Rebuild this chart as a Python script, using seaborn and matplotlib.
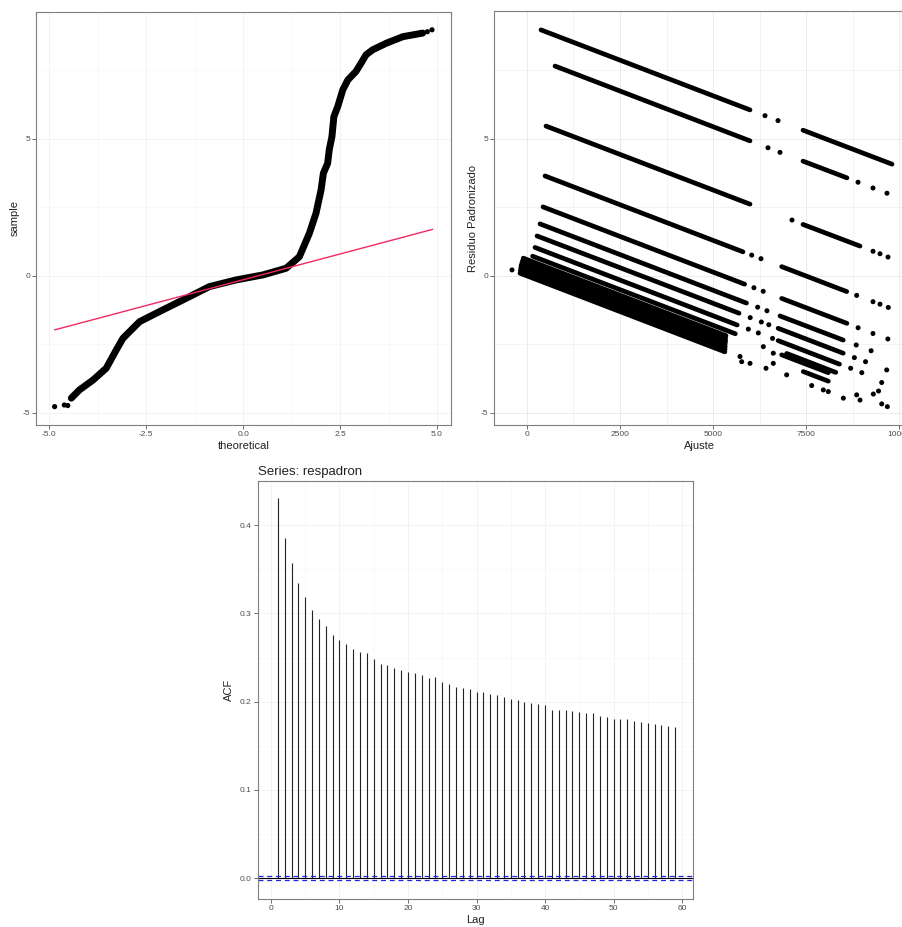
import numpy as np
import pandas as pd
import matplotlib
matplotlib.use("Agg")
import matplotlib.pyplot as plt
import seaborn as sns

# ---------------- data ----------------
# Q-Q plot
qq_theoretical = [-4.43, -4.22, -3.87, -3.53, -3.27, -3.10, -2.67, -2.07, -1.38, -0.87, -0.18,
                  0.51, 1.11, 1.45, 1.71, 1.88, 2.01, 2.07, 2.18, 2.22, 2.29, 2.34, 2.44, 2.57,
                  2.70, 2.91, 3.04, 3.17, 3.34, 3.69, 4.12, 4.63]
qq_sample = [-4.46, -4.16, -3.80, -3.37, -2.70, -2.28, -1.67, -1.24, -0.755, -0.39, -0.146,
             0.036, 0.28, 0.70, 1.56, 2.29, 3.14, 3.75, 4.11, 4.60, 5.08, 5.81, 6.18, 6.79,
             7.15, 7.46, 7.76, 8.07, 8.25, 8.49, 8.73, 8.86]
qq_tail_theoretical = [-4.86, -4.61, -4.52, 4.75, 4.87]
qq_tail_sample = [-4.77, -4.71, -4.73, 8.91, 8.98]
qq_line_theoretical = [-4.86, 4.89]
qq_line_sample = [-1.97, 1.70]

# Residual vs fitted: continuous runs of points (x0, y0, x1, y1)
seg_x0 = [376, 7419, 753, 7419, 511, 7419, 484, 6846, 430, 6846, 349, 6800, 269, 6750,
          215, 6750, 150, 6980, -100, -120, -140, -160, -170, -180, -188, 6846, 7427]
seg_y0 = [8.98, 5.32, 7.66, 4.19, 5.47, 1.88, 3.65, 0.34, 2.52, -0.82, 1.90, -1.46, 1.46, -1.91,
          1.04, -2.36, 0.72, -2.83, 0.65, 0.56, 0.47, 0.38, 0.29, 0.19, 0.10, -2.88, -3.49]
seg_x1 = [5995, 9812, 5995, 8602, 5995, 8952, 5806, 8594, 5850, 8600, 5900, 8500, 5700, 8500,
          5650, 8400, 5600, 8300, 5350, 5340, 5340, 5330, 5330, 5325, 5320, 8100, 8100]
seg_y1 = [6.06, 4.08, 4.93, 3.58, 2.62, 1.09, 0.88, -0.57, -0.30, -1.73, -0.99, -2.34, -1.36, -2.82,
          -1.79, -3.22, -2.11, -3.52, -2.18, -2.28, -2.38, -2.47, -2.57, -2.67, -2.77, -3.53, -3.84]
# isolated points
pt_fitted = [6398, 6747, 6478, 6801, 8898, 9301, 9677, 7124, 9301, 9489, 9704,
             6040, 6290, 8862, 9301, 9489, 9712, 6100, 6350, 8900, 9300, 9700,
             6200, 6450, 8850, 9250, 6000, 6300, 6500, 8800, 9100, 9669,
             5950, 6218, 6600, 8700, 9000, 5726, 5771, 5995, 6425, 6621, 6621, 6353,
             6980, 7653, 7965, 8100, 8503, 8862, 8952, 9310, 9535, 9535, 9686, 9450, -403]
pt_resid = [5.85, 5.67, 4.68, 4.51, 3.42, 3.21, 3.02, 2.04, 0.90, 0.81, 0.69,
            0.76, 0.63, -0.71, -0.94, -1.03, -1.15, -0.43, -0.56, -1.89, -2.10, -2.30,
            -1.14, -1.27, -2.52, -2.73, -1.52, -1.68, -1.78, -2.98, -3.13, -3.43,
            -1.94, -2.08, -2.28, -3.37, -3.53, -2.94, -3.13, -3.19, -3.37, -3.19, -2.82, -2.58,
            -3.61, -4.00, -4.16, -4.22, -4.46, -4.34, -4.53, -4.31, -3.89, -4.67, -4.77, -4.20, 0.22]

# ACF
acf_lag = list(range(1, 60))
acf_value = [0.4305, 0.386, 0.357, 0.334, 0.319, 0.304, 0.294, 0.286, 0.275, 0.270,
             0.265, 0.260, 0.256, 0.255, 0.248, 0.243, 0.2415, 0.238, 0.236, 0.234,
             0.232, 0.230, 0.227, 0.228, 0.222, 0.220, 0.217, 0.216, 0.214, 0.211,
             0.2105, 0.209, 0.2075, 0.2055, 0.203, 0.202, 0.200, 0.199, 0.1976, 0.196,
             0.191, 0.1905, 0.1905, 0.189, 0.188, 0.1875, 0.187, 0.184, 0.183, 0.1806,
             0.1806, 0.180, 0.178, 0.177, 0.1754, 0.1746, 0.1735, 0.1727, 0.1715]
acf_ci = 0.0023

# ---------------- style ----------------
sns.set_theme(style="white")
plt.rcParams['font.family'] = ['Liberation Sans', 'DejaVu Sans']
plt.rcParams['axes.unicode_minus'] = False
TICK_C = "#4d4d4d"
W, H = 902, 927
fig = plt.figure(figsize=(W / 100, H / 100), dpi=100)


def add_ax(l, r, t, b):
    return fig.add_axes([l / W, (H - b) / H, (r - l) / W, (b - t) / H])


def style_ax(ax, grid_c):
    for s in ax.spines.values():
        s.set_color("#7f7f7f")
        s.set_linewidth(0.8)
    ax.tick_params(axis="both", which="major", direction="out", length=2.8, width=0.6,
                   color="#555555", labelsize=6, labelcolor=TICK_C, pad=1.5,
                   bottom=True, left=True)
    ax.tick_params(axis="both", which="minor", length=0)
    ax.set_axisbelow(True)
    ax.grid(True, which="major", color=grid_c, lw=0.7)
    ax.grid(True, which="minor", color=grid_c, lw=0.4)


# ---------------- Q-Q plot ----------------
ax1 = add_ax(36, 451, 12, 425)
style_ax(ax1, "#f3f3f3")
qq_df = pd.DataFrame({"theoretical": qq_theoretical, "sample": qq_sample})
sns.lineplot(data=qq_df, x="theoretical", y="sample", sort=False, ax=ax1, color="black",
             lw=5.0, solid_capstyle="round", solid_joinstyle="round")
tail_df = pd.DataFrame({"theoretical": qq_tail_theoretical, "sample": qq_tail_sample})
sns.scatterplot(data=tail_df, x="theoretical", y="sample", ax=ax1, color="black", s=14,
                edgecolor="none")
line_df = pd.DataFrame({"theoretical": qq_line_theoretical, "sample": qq_line_sample})
sns.lineplot(data=line_df, x="theoretical", y="sample", ax=ax1, color="#f2295e", lw=1.0)
ax1.set_xlim(-5.34, 5.36)
ax1.set_ylim(-5.44, 9.63)
ax1.set_xticks([-5.0, -2.5, 0.0, 2.5, 5.0])
ax1.set_xticklabels(["-5.0", "-2.5", "0.0", "2.5", "5.0"])
ax1.set_yticks([-5, 0, 5])
ax1.set_yticklabels(["-5", "0", "5"])
ax1.set_xticks([-3.75, -1.25, 1.25, 3.75], minor=True)
ax1.set_yticks([-2.5, 2.5, 7.5], minor=True)
ax1.set_xlabel("theoretical", fontsize=8, color="#222222", labelpad=2)
ax1.set_ylabel("sample", fontsize=8, color="#222222", labelpad=2)

# ---------------- Residual vs fitted ----------------
ax2 = add_ax(494, 905, 11, 425)
style_ax(ax2, "#ebebeb")
rows = []
for i, (a, b, c, d) in enumerate(zip(seg_x0, seg_y0, seg_x1, seg_y1)):
    rows.append({"seg": i, "Ajuste": a, "res": b})
    rows.append({"seg": i, "Ajuste": c, "res": d})
seg_df = pd.DataFrame(rows)
sns.lineplot(data=seg_df, x="Ajuste", y="res", units="seg", estimator=None, ax=ax2,
             color="black", lw=3.4, solid_capstyle="round")
pts_df = pd.DataFrame({"Ajuste": pt_fitted, "res": pt_resid})
sns.scatterplot(data=pts_df, x="Ajuste", y="res", ax=ax2, color="black", s=13, edgecolor="none")
ax2.set_xlim(-887, 10161)
ax2.set_ylim(-5.44, 9.67)
ax2.set_xticks([0, 2500, 5000, 7500, 10000])
ax2.set_xticks([1250, 3750, 6250, 8750], minor=True)
ax2.set_yticks([-5, 0, 5])
ax2.set_yticklabels(["-5", "0", "5"])
ax2.set_yticks([-2.5, 2.5, 7.5], minor=True)
ax2.set_xlabel("Ajuste", fontsize=8, color="#222222", labelpad=2)
ax2.set_ylabel("Residuo Padronizado", fontsize=8, color="#222222", labelpad=2)

# ---------------- ACF ----------------
ax3 = add_ax(257.7, 692.7, 480.7, 899.3)
style_ax(ax3, "#f3f3f3")
acf_df = pd.DataFrame({"Lag": acf_lag, "ACF": acf_value})
ax3.vlines(acf_df["Lag"], 0, acf_df["ACF"], color="#222222", lw=0.8)
ax3.axhline(0, color="black", lw=0.8)
ax3.axhline(acf_ci, color="#2222dd", lw=0.9, ls=(0, (4, 3)))
ax3.axhline(-acf_ci, color="#2222dd", lw=0.9, ls=(0, (4, 3)))
ax3.set_xlim(-1.94, 61.56)
ax3.set_ylim(-0.0241, 0.4505)
ax3.set_xticks([0, 10, 20, 30, 40, 50, 60])
ax3.set_xticks([5, 15, 25, 35, 45, 55], minor=True)
ax3.set_yticks([0.0, 0.1, 0.2, 0.3, 0.4])
ax3.set_yticklabels(["0.0", "0.1", "0.2", "0.3", "0.4"])
ax3.set_yticks([0.05, 0.15, 0.25, 0.35], minor=True)
ax3.set_xlabel("Lag", fontsize=8, color="#222222", labelpad=2)
ax3.set_ylabel("ACF", fontsize=8, color="#222222", labelpad=4)
ax3.set_title("Series: respadron", loc="left", fontsize=9.5, color="#222222", pad=4)

fig.savefig("out.png", dpi=100, facecolor="white")
